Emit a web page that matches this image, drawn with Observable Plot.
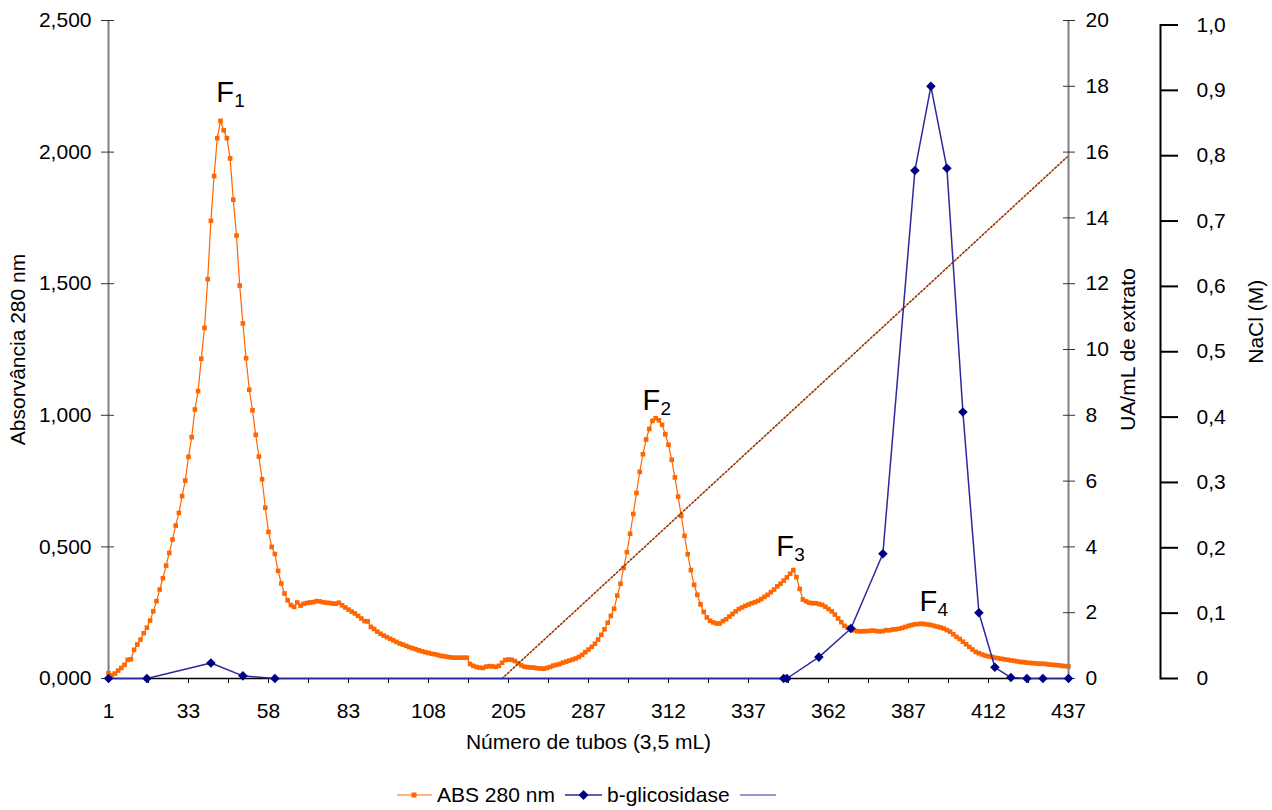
<!DOCTYPE html>
<html><head><meta charset="utf-8">
<script src="https://cdn.jsdelivr.net/npm/d3@7"></script>
<script src="https://cdn.jsdelivr.net/npm/@observablehq/plot@0.6"></script>
<style>
body{margin:0;background:#fff;font-family:"Liberation Sans",Arial,sans-serif;}
#wrap{position:relative;width:1272px;height:780px;overflow:hidden;}
#wrap svg{position:absolute;left:0;top:0;}
#legend{position:relative;width:1272px;height:30px;font-size:21px;color:#000;}
#legend .it{position:absolute;top:0;height:30px;display:flex;align-items:center;}
</style></head><body>
<div id="wrap"></div>
<div id="legend"></div>
<script>
// ---- data ----
const tubeLabels = ["1","33","58","83","108","205","287","312","337","362","387","412","437"]; // every 25 fractions
const absorbance = [ // ABS 280 nm, one value per fraction (category index 0..300)
 0.02,0.012,0.019,0.03,0.04,0.052,0.071,0.073,0.109,0.129,
 0.148,0.172,0.193,0.22,0.255,0.294,0.338,0.381,0.429,0.477,
 0.528,0.581,0.629,0.693,0.752,0.842,0.917,1.022,1.092,1.215,
 1.332,1.517,1.739,1.909,2.053,2.119,2.083,2.053,1.976,1.819,
 1.683,1.493,1.349,1.217,1.097,1.019,0.926,0.843,0.757,0.649,
 0.557,0.5,0.473,0.409,0.361,0.323,0.297,0.279,0.272,0.289,
 0.277,0.284,0.287,0.289,0.29,0.294,0.293,0.29,0.288,0.287,
 0.285,0.284,0.288,0.278,0.27,0.262,0.254,0.247,0.238,0.228,
 0.218,0.217,0.196,0.188,0.178,0.17,0.163,0.157,0.151,0.145,
 0.139,0.133,0.129,0.124,0.119,0.115,0.111,0.107,0.103,0.1,
 0.097,0.094,0.092,0.089,0.086,0.084,0.082,0.08,0.079,0.079,
 0.079,0.079,0.079,0.055,0.048,0.044,0.041,0.04,0.045,0.047,
 0.046,0.044,0.048,0.06,0.07,0.072,0.071,0.066,0.058,0.05,
 0.045,0.043,0.042,0.041,0.039,0.038,0.037,0.04,0.044,0.049,
 0.052,0.055,0.06,0.064,0.068,0.072,0.076,0.082,0.09,0.1,
 0.11,0.12,0.132,0.148,0.166,0.187,0.212,0.238,0.265,0.315,
 0.36,0.42,0.48,0.55,0.625,0.705,0.785,0.852,0.908,0.948,
 0.979,0.989,0.981,0.964,0.928,0.888,0.831,0.764,0.691,0.618,
 0.542,0.472,0.412,0.356,0.318,0.282,0.253,0.232,0.219,0.213,
 0.209,0.209,0.218,0.225,0.235,0.245,0.255,0.264,0.27,0.276,
 0.281,0.286,0.29,0.295,0.302,0.31,0.318,0.328,0.338,0.35,
 0.36,0.372,0.384,0.398,0.412,0.385,0.34,0.3,0.293,0.288,
 0.286,0.286,0.283,0.28,0.273,0.264,0.255,0.243,0.228,0.214,
 0.2,0.193,0.187,0.183,0.18,0.179,0.18,0.18,0.181,0.182,
 0.18,0.179,0.18,0.184,0.183,0.186,0.187,0.189,0.192,0.196,
 0.2,0.203,0.206,0.207,0.208,0.207,0.205,0.203,0.2,0.197,
 0.194,0.19,0.184,0.178,0.168,0.158,0.15,0.14,0.13,0.12,
 0.11,0.101,0.096,0.091,0.087,0.084,0.082,0.079,0.077,0.075,
 0.073,0.071,0.069,0.067,0.065,0.063,0.062,0.06,0.059,0.058,
 0.057,0.056,0.056,0.055,0.053,0.052,0.051,0.05,0.048,0.047,
 0.046
];
const enzymeIdx = [0,12,32,42,52,211,212,222,232,242,252,257,262,267,272,277,282,287,292,300];
const enzymeVal = [0,0,0.47,0.08,0,0,0,0.65,1.52,3.79,15.44,18.0,15.51,8.1,2.0,0.34,0.03,0,0,0];
const naclIdx = [123,300];
const naclVal = [0,0.8];
const peakNames = ["1","2","3","4"];
const peakLabelIdx = [33.7,166.9,208.7,253.4];
const peakLabelAbs = [2.19,1.022,0.464,0.255];

// ---- tables ----
const absData = absorbance.map((v,i)=>({i,v}));
const enzData = enzymeIdx.map((i,k)=>({i,v:enzymeVal[k]}));
const naclData = naclIdx.map((i,k)=>({i,v:naclVal[k]}));
const peaks = peakNames.map((s,k)=>({s,i:peakLabelIdx[k],v:peakLabelAbs[k]}));

const W=1272,H=780,FS=21;
const FONT='"Liberation Sans", Arial, sans-serif';
const style={background:"transparent",fontFamily:FONT,fontSize:FS+"px",color:"#000",overflow:"visible"};
const xs={domain:[0,300],range:[108,1068],axis:null,label:null};
const xTicks=d3.range(0,300.01,12.5);
const comma = (d,n)=>d.toFixed(n).replace(".",",");

const p1 = Plot.plot({
  width:W,height:H,marginLeft:108,marginRight:204,marginTop:20,marginBottom:102,style,
  x:xs, y:{domain:[0,2.5],axis:null,label:null},
  marks:[
    Plot.ruleX([0],{stroke:"#808080",strokeWidth:2}),
    Plot.axisY(d3.range(0,2.51,0.5),{anchor:"left",label:null,tickSize:13,dx:6,fill:"none",stroke:"#333"}),
    Plot.axisY(d3.range(0,2.51,0.5),{anchor:"left",label:null,tickSize:7,tickPadding:10,stroke:"none",tickFormat:d=>comma(d,3),fontSize:FS}),
    Plot.axisX(xTicks,{anchor:"bottom",label:null,tickSize:5,tickPadding:20,stroke:"#000",fontSize:FS,
      tickFormat:d=>(d%25===0?tubeLabels[d/25]:"")}),
    Plot.ruleY([0],{stroke:"#000",strokeWidth:1.5}),
    Plot.text(["Absorvância 280 nm"],{frameAnchor:"left",textAnchor:"middle",rotate:-90,dx:-90,fontSize:FS}),
    Plot.text(["Número de tubos (3,5 mL)"],{frameAnchor:"bottom",textAnchor:"middle",dy:70,fontSize:FS}),
    Plot.line(absData,{x:"i",y:"v",stroke:"#FF6600",strokeWidth:1.2}),
    Plot.dot(absData,{x:"i",y:"v",symbol:"square",r:2.6,fill:"#FF6600"}),
    Plot.text(peaks,{x:"i",y:"v",text:()=>"F",textAnchor:"start",lineAnchor:"bottom",fontSize:29}),
    Plot.text(peaks,{x:"i",y:"v",text:"s",textAnchor:"start",lineAnchor:"bottom",fontSize:19,dx:18,dy:5})
  ]
});

const p3 = Plot.plot({
  width:W,height:H,marginLeft:108,marginRight:112,marginTop:24.5,marginBottom:102,style,
  x:xs, y:{domain:[0,1],axis:null,label:null},
  marks:[
    Plot.frame({anchor:"right",stroke:"#000",strokeWidth:2}),
    Plot.axisY(d3.range(0,1.01,0.1),{anchor:"right",label:null,tickSize:17,tickPadding:19,strokeWidth:2,stroke:"#000",fontSize:FS,
      tickFormat:d=>d===0?"0":comma(d,1)}),
    Plot.text(["NaCl (M)"],{frameAnchor:"right",textAnchor:"middle",rotate:-90,dx:96,dy:-30,fontSize:FS}),
    Plot.line(naclData,{x:"i",y:"v",stroke:"#993300",strokeWidth:1.6,strokeDasharray:"1.6 2.2"})
  ]
});

const p2 = Plot.plot({
  width:W,height:H,marginLeft:108,marginRight:204,marginTop:20,marginBottom:102,style,
  x:xs, y:{domain:[0,20],axis:null,label:null},
  marks:[
    Plot.ruleX([300],{stroke:"#808080",strokeWidth:2}),
    Plot.axisY(d3.range(0,20.1,2),{anchor:"right",label:null,tickSize:12,dx:-6,fill:"none",stroke:"#333"}),
    Plot.axisY(d3.range(0,20.1,2),{anchor:"right",label:null,tickSize:6,tickPadding:11,stroke:"none",fontSize:FS}),
    Plot.text(["UA/mL de extrato"],{frameAnchor:"right",textAnchor:"middle",rotate:-90,dx:60,fontSize:FS}),
    Plot.line(enzData,{x:"i",y:"v",stroke:"#2a2a9e",strokeWidth:1.5}),
    Plot.dot(enzData,{x:"i",y:"v",symbol:"diamond2",r:4.3,fill:"#000080"})
  ]
});

const wrap=document.getElementById("wrap");
wrap.append(p1,p3,p2);

// ---- legend ----
const lg=document.getElementById("legend");
lg.innerHTML=`
<div class="it" style="left:397px">
  <svg width="36" height="30"><line x1="0" y1="15" x2="35" y2="15" stroke="#FF6600" stroke-width="1.2"/><rect x="14.5" y="12.5" width="5" height="5" fill="#FF6600"/></svg>
  <span style="margin-left:4px">ABS 280 nm</span>
</div>
<div class="it" style="left:565px">
  <svg width="37" height="30"><line x1="0" y1="15" x2="37" y2="15" stroke="#2a2a9e" stroke-width="1.5"/><path d="M18.5,10 L23.5,15 L18.5,20 L13.5,15 Z" fill="#000080"/></svg>
  <span style="margin-left:5px">b-glicosidase</span>
</div>
<div class="it" style="left:740px">
  <svg width="36" height="30"><line x1="0" y1="15" x2="36" y2="15" stroke="#3333aa" stroke-width="1.2"/></svg>
</div>`;
</script>
</body></html>
